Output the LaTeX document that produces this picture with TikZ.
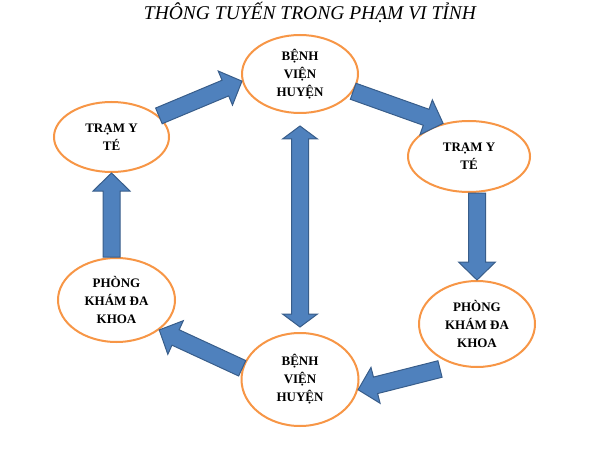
\documentclass[tikz,border=0pt]{standalone}
\usepackage{fontspec}
\setmainfont{Liberation Serif}
\usetikzlibrary{calc,shapes.geometric}

\definecolor{ringorange}{HTML}{F79646}
\definecolor{arrowblue}{HTML}{4F81BD}
\definecolor{arrowedge}{HTML}{385D8A}

\newcommand{\bigarrow}[2]{%
  \coordinate (hb) at ($(#2)!18pt!(#1)$);
  \filldraw[blockarrow] ($(#1)!8.5pt!90:(#2)$) -- ($(hb)!8.5pt!90:(#2)$)
    -- ($(hb)!18.5pt!90:(#2)$) -- (#2) -- ($(hb)!18.5pt!-90:(#2)$)
    -- ($(hb)!8.5pt!-90:(#2)$) -- ($(#1)!8.5pt!-90:(#2)$) -- cycle;}
\newcommand{\bigdarrow}[2]{%
  \coordinate (ha) at ($(#1)!13pt!(#2)$);
  \coordinate (hb) at ($(#2)!13pt!(#1)$);
  \filldraw[blockarrow] (#1) -- ($(ha)!17.5pt!90:(#2)$) -- ($(ha)!8.5pt!90:(#2)$)
    -- ($(hb)!8.5pt!90:(#2)$) -- ($(hb)!17.5pt!90:(#2)$) -- (#2)
    -- ($(hb)!17.5pt!-90:(#2)$) -- ($(hb)!8.5pt!-90:(#2)$)
    -- ($(ha)!8.5pt!-90:(#2)$) -- ($(ha)!17.5pt!-90:(#2)$) -- cycle;}

\begin{document}
\begin{tikzpicture}[x=1pt, y=-1pt,
   unit/.style={ellipse, draw=ringorange, line width=2pt, fill=white, inner sep=0pt,
     align=center, font=\bfseries\fontsize{13}{18}\selectfont},
   blockarrow/.style={fill=arrowblue, draw=arrowedge, line width=1pt, line join=miter}]
   \useasboundingbox (0,0) rectangle (599,449);
   \node (title) at (310,19.5) [anchor=base, font=\itshape\fontsize{19.5}{22}\selectfont] {THÔNG TUYẾN TRONG PHẠM VI TỈNH};

   \node (bvt) at (300,74) [unit, minimum width=116pt, minimum height=78pt] {BỆNH\\VIỆN\\HUYỆN};
   \node (tytl) at (111.5,137) [unit, minimum width=115pt, minimum height=70pt] {TRẠM Y\\TÉ};
   \node (tytr) at (469,156.5) [unit, minimum width=122pt, minimum height=71pt] {TRẠM Y\\TÉ};
   \node (pkl) at (116.5,300) [unit, minimum width=117pt, minimum height=84pt] {PHÒNG\\KHÁM ĐA\\KHOA};
   \node (pkr) at (477,324) [unit, minimum width=116pt, minimum height=86pt] {PHÒNG\\KHÁM ĐA\\KHOA};
   \node (bvb) at (300,379.5) [unit, minimum width=117pt, minimum height=93pt] {BỆNH\\VIỆN\\HUYỆN};

   \coordinate (lefttail) at (tytl.south |- pkl.north);
   \coordinate (righttail) at (pkr.north |- tytr.south);
   \coordinate (lowtail) at ($(pkr.center)+(-37,45)$);
   \coordinate (midtop) at ($(bvt.south)!12pt!(bvb.north)$);
   \coordinate (midbot) at ($(bvb.north)!5pt!(bvt.south)$);

   \bigarrow{tytl.24}{bvt.187}
   \bigarrow{bvt.-18}{tytr.128}
   \bigarrow{righttail}{pkr.north}
   \bigarrow{lowtail}{bvb.-10}
   \bigarrow{bvb.169}{pkl.-35}
   \bigarrow{lefttail}{tytl.south}
   \bigdarrow{midtop}{midbot}
\end{tikzpicture}
\end{document}
